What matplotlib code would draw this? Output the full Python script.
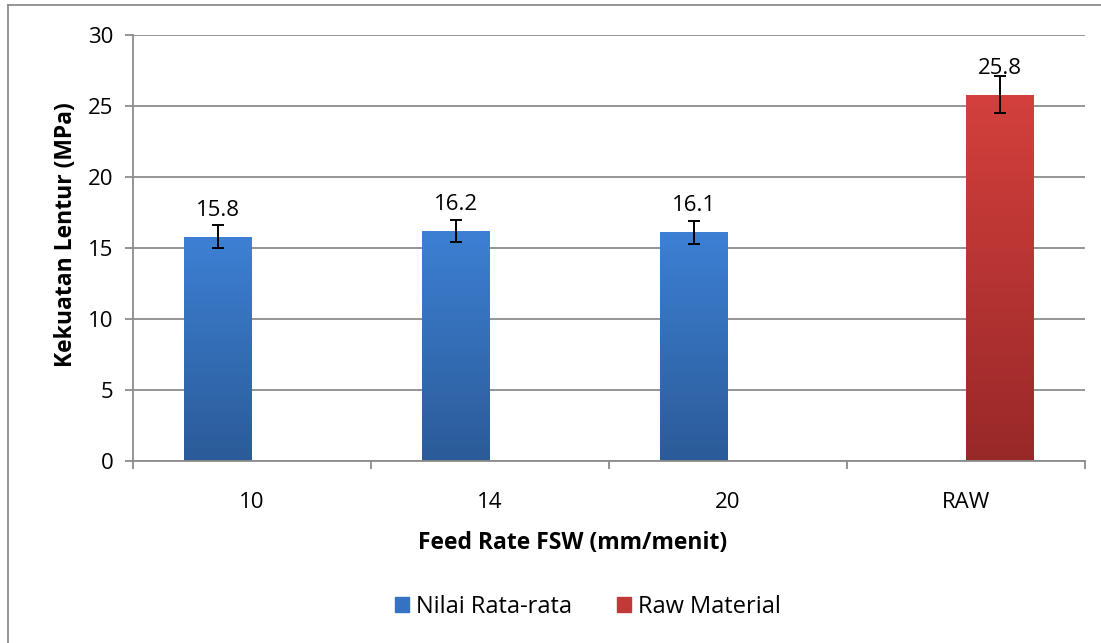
import numpy as np
import matplotlib
matplotlib.use("Agg")
import matplotlib.pyplot as plt
from matplotlib.colors import LinearSegmentedColormap
from matplotlib.patches import Rectangle
from matplotlib.lines import Line2D

categories = ["10", "14", "20", "RAW"]
nilai = [15.8, 16.2, 16.1, 0]
nilai_err = [0.8, 0.8, 0.8, 0]
raw = [0, 0, 0, 25.8]
raw_err = [0, 0, 0, 1.3]
series_names = ["Nilai Rata-rata", "Raw Material"]

plt.rcParams['font.family'] = ['Open Sans', 'DejaVu Sans']

W, H = 1101, 643
fig = plt.figure(figsize=(W/100, H/100), dpi=100)
ax = fig.add_axes([133/W, 1-461/H, (1085-133)/W, (461-35)/H])

x = np.arange(len(categories))
width = 0.285
blue_cmap = LinearSegmentedColormap.from_list("b", ["#2b5b98", "#3d80d4"])
red_cmap = LinearSegmentedColormap.from_list("r", ["#982828", "#d4403d"])

def grad_bars(xpos, vals, errs, cmap, label, face):
    bars = ax.bar(xpos, vals, width, color=face, label=label, zorder=2)
    for b, v, e in zip(bars, vals, errs):
        if v <= 0:
            b.set_visible(False)
            continue
        grad = np.linspace(0, 1, 256).reshape(-1, 1)
        im = ax.imshow(grad, extent=[b.get_x(), b.get_x()+b.get_width(), 0, v],
                       origin='lower', aspect='auto', cmap=cmap, zorder=2.1)
        im.set_clip_path(b)
        b.set_facecolor('none')
        ax.errorbar(b.get_x()+b.get_width()/2, v, yerr=e, fmt='none', ecolor='black',
                    elinewidth=1.4, capsize=4.4, capthick=1.4, zorder=3)
        ax.annotate(f"{v:.1f}", (b.get_x()+b.get_width()/2, v), xytext=(0, 19),
                    textcoords='offset points', ha='center', va='center', fontsize=16, zorder=4)
    return bars

grad_bars(x - width/2, nilai, nilai_err, blue_cmap, series_names[0], "#3672c4")
grad_bars(x + width/2, raw, raw_err, red_cmap, series_names[1], "#c23a38")

ax.set_xlim(-0.5, len(categories)-0.5)
ax.set_ylim(0, 30)
ax.set_yticks(np.arange(0, 31, 5))
ax.yaxis.grid(True, color="#8c8c8c", linewidth=1.3, zorder=0)
ax.set_axisbelow(True)
ax.set_xticks(x)
ax.set_xticklabels(categories, fontsize=16)
ax.set_xticks(np.arange(-0.5, len(categories), 1), minor=True)
ax.tick_params(axis='x', which='major', length=0, pad=22)
ax.tick_params(axis='x', which='minor', length=6, color="#8c8c8c", width=1.3)
ax.tick_params(axis='y', length=6, color="#8c8c8c", width=1.3, labelsize=16, pad=8)
for s in ["top", "right"]:
    ax.spines[s].set_visible(False)
for s in ["left", "bottom"]:
    ax.spines[s].set_color("#8c8c8c")
    ax.spines[s].set_linewidth(1.3)

fig.text(573/W, 1-543/H, "Feed Rate FSW (mm/menit)", fontsize=16.5, fontweight='bold',
         ha='center', va='center')
fig.text(66/W, 1-235/H, "Kekuatan Lentur (MPa)", fontsize=16.5, fontweight='bold',
         ha='center', va='center', rotation=90)

h = [Rectangle((0, 0), 1, 1, color="#3672c4"), Rectangle((0, 0), 1, 1, color="#c23a38")]
fig.legend(h, series_names, loc='center', bbox_to_anchor=(588/W, 1-607/H), ncol=2,
           frameon=False, fontsize=17, handlelength=0.6, handleheight=0.6,
           handletextpad=0.3, columnspacing=1.9)

# chart-area border (cropped: only left and top edges visible)
fig.lines.append(Line2D([8/W, 8/W], [0, 1-5/H], transform=fig.transFigure,
                        color="#8c8c8c", linewidth=1.3))
fig.lines.append(Line2D([8/W, 1], [1-5/H, 1-5/H], transform=fig.transFigure,
                        color="#8c8c8c", linewidth=1.3))

fig.savefig("out.png", dpi=100)
